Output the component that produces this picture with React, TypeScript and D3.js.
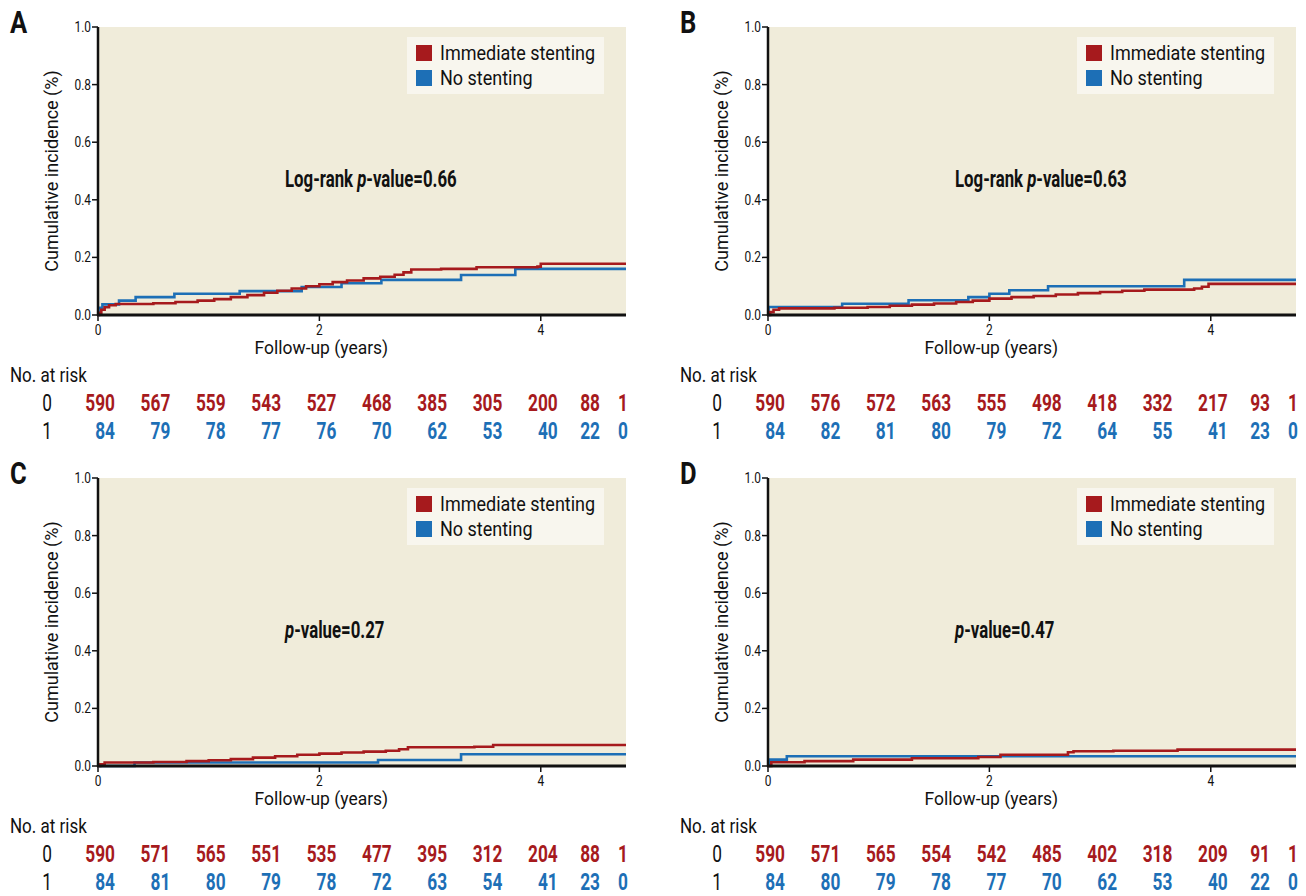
import * as d3 from 'd3';

// cumulative incidence: [years, incidence]
const immediateA: [number, number][] = [
  [0, 0], [0.01, 0.008], [0.03, 0.018], [0.06, 0.027], [0.1, 0.034], [0.16, 0.038],
  [0.5, 0.041], [0.7, 0.045], [0.9, 0.05], [1.05, 0.055], [1.2, 0.062], [1.35, 0.069],
  [1.5, 0.077], [1.62, 0.084], [1.75, 0.092], [1.88, 0.1], [2.0, 0.107], [2.12, 0.114],
  [2.25, 0.12], [2.4, 0.127], [2.55, 0.133], [2.68, 0.14], [2.76, 0.148], [2.83, 0.158],
  [3.1, 0.16], [3.42, 0.166], [3.97, 0.168], [4.0, 0.178]
];
const noStentA: [number, number][] = [
  [0, 0], [0.005, 0.025], [0.04, 0.037], [0.19, 0.05], [0.34, 0.062], [0.69, 0.074],
  [1.28, 0.083], [1.84, 0.097], [2.2, 0.11], [2.56, 0.122], [3.28, 0.139], [3.77, 0.16]
];

const immediateB: [number, number][] = [
  [0, 0], [0.02, 0.01], [0.05, 0.018], [0.1, 0.023], [0.6, 0.025], [0.9, 0.028],
  [1.1, 0.032], [1.3, 0.036], [1.5, 0.04], [1.7, 0.045], [1.85, 0.05], [2.0, 0.057],
  [2.2, 0.062], [2.4, 0.066], [2.6, 0.071], [2.8, 0.076], [3.0, 0.08], [3.2, 0.084],
  [3.4, 0.088], [3.85, 0.092], [3.92, 0.098], [3.98, 0.108]
];
const noStentB: [number, number][] = [
  [0, 0], [0.005, 0.028], [0.67, 0.039], [1.27, 0.051], [1.81, 0.062], [2.0, 0.074],
  [2.18, 0.086], [2.53, 0.1], [3.76, 0.122]
];

const immediateC: [number, number][] = [
  [0, 0], [0.02, 0.006], [0.06, 0.012], [0.5, 0.014], [0.8, 0.017], [1.0, 0.02],
  [1.2, 0.024], [1.4, 0.029], [1.6, 0.034], [1.8, 0.039], [2.0, 0.043], [2.2, 0.047],
  [2.4, 0.05], [2.6, 0.053], [2.72, 0.058], [2.8, 0.065], [3.4, 0.067], [3.57, 0.073]
];
const noStentC: [number, number][] = [
  [0, 0], [0.33, 0.012], [2.53, 0.021], [3.28, 0.041]
];

const immediateD: [number, number][] = [
  [0, 0], [0.03, 0.013], [0.33, 0.017], [0.77, 0.022], [1.3, 0.027], [1.9, 0.031],
  [2.1, 0.039], [2.71, 0.048], [2.76, 0.051], [3.12, 0.053], [3.7, 0.057]
];
const noStentD: [number, number][] = [
  [0, 0], [0.01, 0.022], [0.17, 0.034]
];

// number at risk, columns every half year
const riskTimes = [0, 0.5, 1, 1.5, 2, 2.5, 3, 3.5, 4, 4.5, 5];
const riskA0 = [590, 567, 559, 543, 527, 468, 385, 305, 200, 88, 1];
const riskA1 = [84, 79, 78, 77, 76, 70, 62, 53, 40, 22, 0];
const riskB0 = [590, 576, 572, 563, 555, 498, 418, 332, 217, 93, 1];
const riskB1 = [84, 82, 81, 80, 79, 72, 64, 55, 41, 23, 0];
const riskC0 = [590, 571, 565, 551, 535, 477, 395, 312, 204, 88, 1];
const riskC1 = [84, 81, 80, 79, 78, 72, 63, 54, 41, 23, 0];
const riskD0 = [590, 571, 565, 554, 542, 485, 402, 318, 209, 91, 1];
const riskD1 = [84, 80, 79, 78, 77, 70, 62, 53, 40, 22, 0];

const yTicks = [0, 0.2, 0.4, 0.6, 0.8, 1.0];
const xTicks = [0, 2, 4];
const seriesNames = ['Immediate stenting', 'No stenting'];

const RED = '#a61a1d';
const BLUE = '#1d6fb6';
const FONT = 'Roboto, "Liberation Sans", sans-serif';
const X_MAX = 4.77;

function CText({ x, y, sx = 1, rotate = 0, anchor = 'start', size, weight = 400, fill = '#111', children }: any) {
  return (
    <text
      transform={`translate(${x},${y})${rotate ? ` rotate(${rotate})` : ''} scale(${sx},1)`}
      textAnchor={anchor}
      fontSize={size}
      fontWeight={weight}
      fill={fill}
      fontFamily={FONT}
    >
      {children}
    </text>
  );
}

function Panel({ dx, dy, letter, red, blue, logRank, pValue, risk0, risk1 }: any) {
  const x = d3.scaleLinear().domain([0, X_MAX]).range([98, 626]);
  const y = d3.scaleLinear().domain([0, 1]).range([315, 27]);
  const line = d3
    .line<[number, number]>()
    .x((d) => x(d[0]))
    .y((d) => y(d[1]))
    .curve(d3.curveStepAfter);
  const extend = (pts: [number, number][]) => [...pts, [X_MAX, pts[pts.length - 1][1]] as [number, number]];
  const [x0, x1] = x.range();
  const [yb, yt] = y.range();
  const colX = (i: number) => (i < 9 ? x(riskTimes[i]) + 17 : x1 - 26 + (i - 9) * 28);

  return (
    <g transform={`translate(${dx},${dy})`}>
      <CText x={10} y={33} size={32} weight={700} sx={0.8}>{letter}</CText>
      <rect x={x0} y={yt} width={x1 - x0} height={yb - yt} fill="#f0ecda" />

      {yTicks.map((t) => (
        <g key={t}>
          <line x1={x0 - 6} x2={x0} y1={y(t)} y2={y(t)} stroke="#111" strokeWidth={1.5} />
          <CText x={x0 - 7} y={y(t) + 5} size={14} sx={0.85} anchor="end">{d3.format('.1f')(t)}</CText>
        </g>
      ))}
      {xTicks.map((t) => (
        <g key={t}>
          <line x1={x(t)} x2={x(t)} y1={yb} y2={yb + 6} stroke="#111" strokeWidth={1.5} />
          <CText x={x(t)} y={yb + 20} size={14} sx={0.85} anchor="middle">{t}</CText>
        </g>
      ))}

      <path d={line(extend(blue)) ?? ''} fill="none" stroke={BLUE} strokeWidth={2.6} />
      <path d={line(extend(red)) ?? ''} fill="none" stroke={RED} strokeWidth={2.6} />

      <line x1={x0} x2={x0} y1={yt} y2={yb + 1} stroke="#111" strokeWidth={2.5} />
      <line x1={x0 - 1} x2={x1} y1={yb} y2={yb} stroke="#111" strokeWidth={2.8} />

      <CText x={58} y={(yt + yb) / 2} rotate={-90} size={19} sx={0.95} anchor="middle">
        Cumulative incidence (%)
      </CText>
      <CText x={x(2) + 2} y={yb + 39} size={19} sx={0.92} anchor="middle">Follow-up (years)</CText>

      <g>
        <rect x={x1 - 219} y={yt + 10} width={197} height={57} fill="#f8f6ee" />
        {seriesNames.map((name, i) => (
          <g key={name}>
            <rect x={x1 - 210} y={yt + 18 + i * 25} width={16} height={16} fill={i === 0 ? RED : BLUE} />
            <CText x={x1 - 186} y={yt + 33 + i * 25} size={20} sx={0.9}>{name}</CText>
          </g>
        ))}
      </g>

      <CText x={x0 + 187} y={yt + 160} size={24} weight={700} sx={0.7}>
        {logRank ? 'Log-rank ' : ''}
        <tspan fontStyle="italic">p</tspan>-value={pValue}
      </CText>

      <CText x={10} y={382} size={20} sx={0.85}>No. at risk</CText>
      <CText x={47} y={411} size={24} sx={0.72} anchor="middle">0</CText>
      <CText x={47} y={439} size={24} sx={0.72} anchor="middle">1</CText>
      {risk0.map((v: number, i: number) => (
        <CText key={`r0-${i}`} x={colX(i)} y={411} size={24} sx={0.72} weight={700} anchor="end" fill={RED}>{v}</CText>
      ))}
      {risk1.map((v: number, i: number) => (
        <CText key={`r1-${i}`} x={colX(i)} y={439} size={24} sx={0.72} weight={700} anchor="end" fill={BLUE}>{v}</CText>
      ))}
    </g>
  );
}

export default function App() {
  return (
    <svg
      width={1306}
      height={896}
      style={{ position: 'absolute', left: 0, top: 0, background: '#fff' }}
    >
      <Panel dx={0} dy={0} letter="A" red={immediateA} blue={noStentA} logRank pValue="0.66" risk0={riskA0} risk1={riskA1} />
      <Panel dx={670} dy={0} letter="B" red={immediateB} blue={noStentB} logRank pValue="0.63" risk0={riskB0} risk1={riskB1} />
      <Panel dx={0} dy={451} letter="C" red={immediateC} blue={noStentC} logRank={false} pValue="0.27" risk0={riskC0} risk1={riskC1} />
      <Panel dx={670} dy={451} letter="D" red={immediateD} blue={noStentD} logRank={false} pValue="0.47" risk0={riskD0} risk1={riskD1} />
    </svg>
  );
}
